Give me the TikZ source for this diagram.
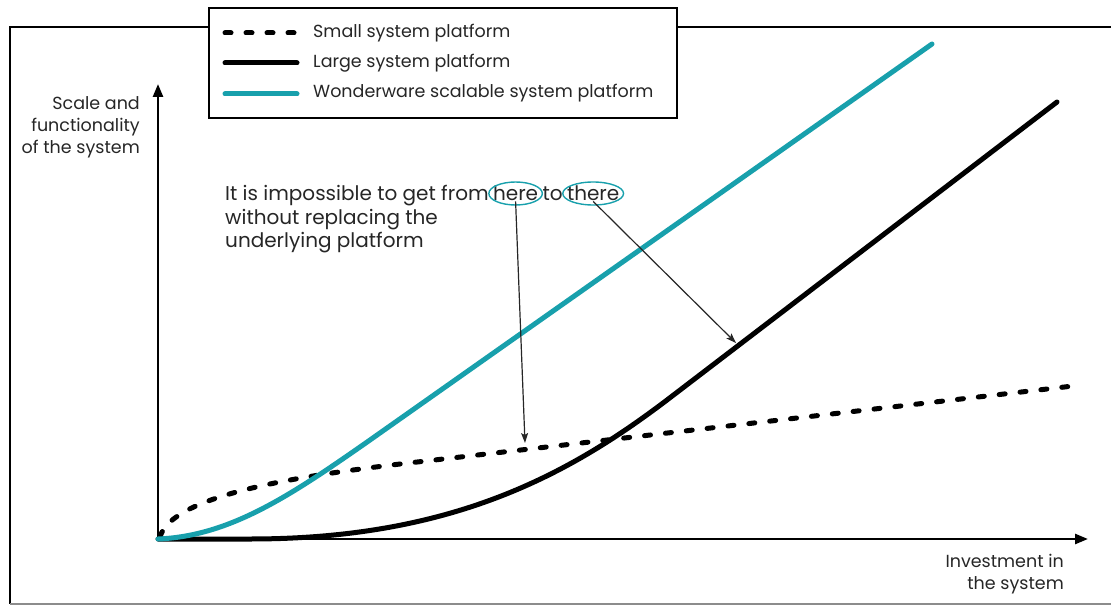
\documentclass[tikz,border=0pt]{standalone}
\usepackage{fontspec}
\setmainfont{Poppins}
\usetikzlibrary{arrows.meta,calc}
\definecolor{teal1}{RGB}{24,160,172}
\tikzset{
  frameline/.style={line width=2pt,black},
  curve/.style={line width=5pt,line cap=round},
  dashcurve/.style={curve,dash pattern=on 6pt off 15pt},
  tealcurve/.style={curve,teal1},
  axis/.style={line width=2.5pt,-{Triangle[length=13pt,width=10pt]}},
  pointer/.style={line width=1.2pt,black!85,-{Stealth[length=10pt,width=7pt,inset=2pt]}},
  ovalline/.style={draw=teal1,line width=1.4pt},
  txt/.style={font=\fontsize{17.5}{22}\selectfont,inner sep=0pt,text=black!85},
  atxt/.style={font=\fontsize{20}{23}\selectfont,inner sep=0pt,text=black!85},
  oval/.style={atxt,inner xsep=4pt,inner ysep=0pt,text height=0.72em,text depth=0.12em},
  linetxt/.style={atxt,text height=0.72em,text depth=0.12em}
}
\begin{document}
\begin{tikzpicture}[x=1pt,y=-1pt]
\useasboundingbox (0,0) rectangle (1111,607);
% frame
\draw[frameline] (1115,27) -- (10,27) -- (10,604);
\draw[line width=1.5pt,black!45] (10,604) -- (1115,604);
% legend
\node[draw,frameline,fill=white,minimum width=468pt,minimum height=110pt,anchor=north west,inner sep=0pt] (legend) at (208,7) {};
\coordinate (l1a) at (225,33); \coordinate (l1b) at (297,33);
\coordinate (l2a) at (225,63); \coordinate (l2b) at (297,63);
\coordinate (l3a) at (225,94); \coordinate (l3b) at (297,94);
\draw[dashcurve] (l1a) -- (l1b);
\draw[curve] (l2a) -- (l2b);
\draw[tealcurve] (l3a) -- (l3b);
\node[txt,anchor=west] (t1) at (313,33) {Small system platform};
\node[txt,anchor=west] (t2) at (313,63) {Large system platform};
\node[txt,anchor=west] (t3) at (313,93) {Wonderware scalable system platform};
% axes
\coordinate (O) at (158,539);
\coordinate (ytip) at (158,84);
\coordinate (xtip) at (1088,539);
\draw[axis] (O) -- (ytip);
\draw[axis] (O) -- (xtip);
\node[txt,align=right,anchor=north east] (ylab) at (140,96) {Scale and\\functionality\\of the system};
\node[txt,align=right,anchor=north east] (xlab) at (1064,554) {Investment in\\the system};
% curves
\draw[dashcurve] (160,537) .. controls (172,495) and (300,476) .. (400,464) -- (1073,386);
\draw[curve] (158,539) -- (250,539) .. controls (450,539) and (567,476) .. (667,400) -- (1057,102);
\draw[tealcurve] (158,539) .. controls (230,536) and (290,496) .. (370,440) -- (932,44);
% annotation
\node[linetxt,anchor=west] (a1) at (225,197) {It is impossible to get from};
\node[oval,anchor=west] (here) at (a1.east) {here};
\node[linetxt,anchor=west] (a2) at (here.east) {to};
\node[oval,anchor=west] (there) at (a2.east) {there};
\path[ovalline] let \p1=($(here.east)-(here.west)$) in ([yshift=3.5pt]here.center) ellipse [x radius=0.5*\x1, y radius=11.5pt];
\path[ovalline] let \p1=($(there.east)-(there.west)$) in ([yshift=3.5pt]there.center) ellipse [x radius=0.5*\x1, y radius=11.5pt];
\node[atxt,align=left,anchor=north west] (a3) at (225,209) {without replacing the\\underlying platform};
\coordinate (hereTip) at (525,443);
\coordinate (thereTip) at (736,343);
\draw[pointer] (here.south) -- (hereTip);
\draw[pointer] (there.south) -- (thereTip);
\end{tikzpicture}
\end{document}
